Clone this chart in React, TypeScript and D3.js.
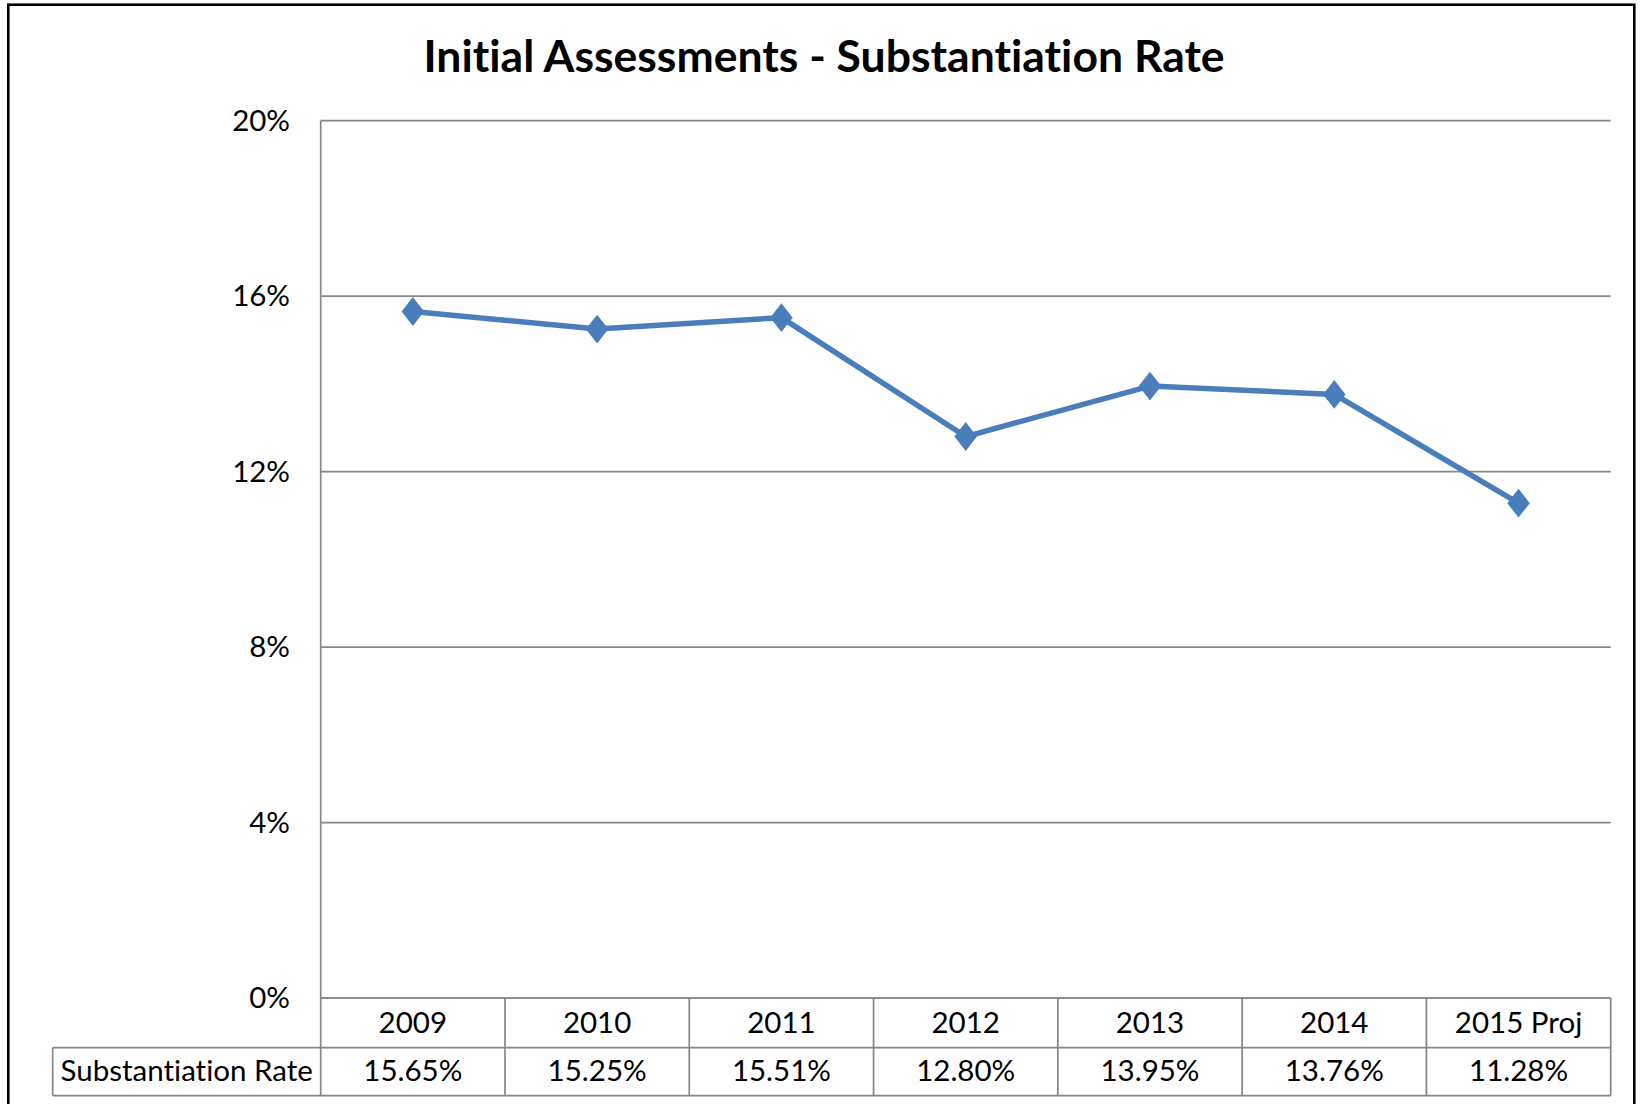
import React from "react";
import * as d3 from "d3";

const categories = ["2009", "2010", "2011", "2012", "2013", "2014", "2015 Proj"];
const rateValues = [15.65, 15.25, 15.51, 12.8, 13.95, 13.76, 11.28];
const rateLabels = ["15.65%", "15.25%", "15.51%", "12.80%", "13.95%", "13.76%", "11.28%"];
const yTicks = [0, 4, 8, 12, 16, 20];
const seriesName = "Substantiation Rate";
const title = "Initial Assessments - Substantiation Rate";

const W = 1640;
const H = 1104;
const FONT = "Lato, 'Open Sans', sans-serif";
const GRID = "#878787";
const LINE = "#4A7EBB";
const TXT = { fontVariantLigatures: "none" as const };

export default function App() {
  const plotLeft = 320.7;
  const plotRight = 1610.7;
  const plotTop = 120.7;
  const plotBottom = 998;
  const row1Bottom = 1047.7;
  const row2Bottom = 1095.7;
  const tableLeft = 52.7;

  const x = d3.scaleBand<string>().domain(categories).range([plotLeft, plotRight]).padding(0);
  const y = d3.scaleLinear().domain([0, 20]).range([plotBottom, plotTop]);
  const cx = (c: string) => (x(c) as number) + x.bandwidth() / 2;

  const line = d3
    .line<number>()
    .x((_, i) => cx(categories[i]))
    .y((d) => y(d));

  const colEdges = categories.map((c) => x(c) as number).concat([plotRight]);

  return (
    <div style={{ position: "absolute", left: 0, top: 0 }}>
      <svg width={W} height={H} style={{ display: "block", background: "#fff" }}>
        <rect x={0} y={0} width={W} height={H} fill="#fff" />
        {/* outer chart border */}
        <rect x={8.3} y={4.7} width={1626} height={1130} fill="none" stroke="#000" strokeWidth={2.6} />
        {/* title */}
        <text x={824} y={71.5} textAnchor="middle" fontFamily={FONT} fontWeight={700} fontSize={44.5} fill="#000" style={TXT}>
          {title}
        </text>
        {/* gridlines */}
        {yTicks.map((t) => (
          <line key={"g" + t} x1={plotLeft} x2={plotRight} y1={y(t)} y2={y(t)} stroke={GRID} strokeWidth={1.7} />
        ))}
        {/* y axis line */}
        <line x1={plotLeft} x2={plotLeft} y1={plotTop} y2={plotBottom} stroke={GRID} strokeWidth={1.7} />
        {/* y tick labels */}
        {yTicks.map((t) => (
          <text key={"t" + t} x={290} y={y(t) + 10} textAnchor="end" fontFamily={FONT} fontSize={29.5} fill="#000" style={TXT}>
            {t + "%"}
          </text>
        ))}
        {/* data table */}
        <g stroke={GRID} strokeWidth={1.7} fill="none">
          <line x1={plotLeft} x2={plotRight} y1={plotBottom} y2={plotBottom} />
          <line x1={tableLeft} x2={plotRight} y1={row1Bottom} y2={row1Bottom} />
          <line x1={tableLeft} x2={plotRight} y1={row2Bottom} y2={row2Bottom} />
          <line x1={tableLeft} x2={tableLeft} y1={row1Bottom} y2={row2Bottom} />
          {colEdges.map((e, i) => (
            <line key={"c" + i} x1={e} x2={e} y1={plotBottom} y2={row2Bottom} />
          ))}
        </g>
        {categories.map((c) => (
          <text key={"h" + c} x={cx(c)} y={1033} textAnchor="middle" fontFamily={FONT} fontSize={29.5} fill="#000" style={TXT}>
            {c}
          </text>
        ))}
        <text x={(tableLeft + plotLeft) / 2} y={1081} textAnchor="middle" fontFamily={FONT} fontSize={29.5} fill="#000" style={TXT}>
          {seriesName}
        </text>
        {categories.map((c, i) => (
          <text key={"v" + c} x={cx(c)} y={1081} textAnchor="middle" fontFamily={FONT} fontSize={29.5} fill="#000" style={TXT}>
            {rateLabels[i]}
          </text>
        ))}
        {/* series line */}
        <path d={line(rateValues) as string} fill="none" stroke={LINE} strokeWidth={5.5} strokeLinejoin="round" />
        {rateValues.map((v, i) => (
          <path
            key={"m" + i}
            d={d3.symbol().type(d3.symbolDiamond).size(240)() as string}
            transform={`translate(${cx(categories[i])},${y(v)}) scale(1.35,1)`}
            fill={LINE}
          />
        ))}
      </svg>
    </div>
  );
}
